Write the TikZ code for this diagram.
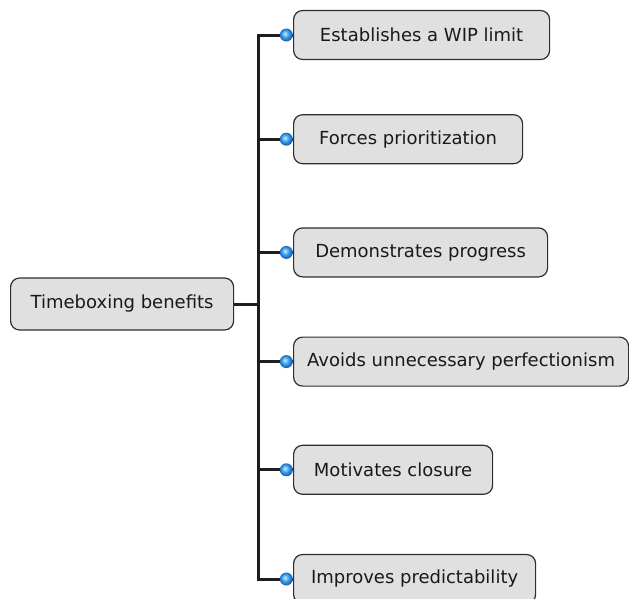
\documentclass[tikz,border=0pt]{standalone}
\usepackage{fontspec}
\setmainfont{DejaVu Sans}
\usetikzlibrary{positioning, calc}
\definecolor{boxfill}{HTML}{E0E0E0}
\definecolor{boxline}{HTML}{2E2E2E}
\definecolor{dotlight}{HTML}{8FD0F8}
\definecolor{dotblue}{HTML}{2E8FE2}
\definecolor{dotdark}{HTML}{1A62B0}
\definecolor{branchcol}{HTML}{1E1E1E}
\pgfdeclareradialshading{bulletball}{\pgfpoint{-6bp}{6bp}}{color(0bp)=(white!60!dotlight); color(5bp)=(dotlight); color(16bp)=(dotblue); color(25bp)=(dotdark); color(50bp)=(dotdark)}

\begin{document}
\begin{tikzpicture}[x=1pt, y=1pt,
          box/.style={draw=boxline, fill=boxfill, rounded corners=9pt, line width=1.2pt, text=black!90, font=\fontsize{18}{21}\selectfont, minimum height=49pt, inner xsep=8pt},
          dot/.style={circle, shading=bulletball, minimum size=13pt, inner sep=0pt},
          branch/.style={line width=3pt, branchcol}]
        \useasboundingbox (0,0) rectangle (629,-598);
        \node[box, anchor=west, minimum width=223pt, minimum height=52pt] (root) at (10,-304) {Timeboxing benefits};
        \node[box, anchor=west, minimum width=256pt] (e1) at (293,-35) {Establishes a WIP limit};
        \node[box, below=54pt of e1.south west, anchor=north west, minimum width=229pt] (e2) {Forces prioritization};
        \node[box, below=63pt of e2.south west, anchor=north west, minimum width=254pt] (e3) {Demonstrates progress};
        \node[box, below=59pt of e3.south west, anchor=north west, minimum width=335pt] (e4) {Avoids unnecessary perfectionism};
        \node[box, below=58pt of e4.south west, anchor=north west, minimum width=199pt] (e5) {Motivates closure};
        \node[box, below=59pt of e5.south west, anchor=north west, minimum width=242pt] (e6) {Improves predictability};
        \coordinate (j) at ($(root.east)+(24,0)$);
        \draw[branch] (root) -- (j);
        \draw[branch] (e1.west) -| (j) |- (e6.west);
        \draw[branch] (j |- e2) -- (e2.west);
        \draw[branch] (j |- e3) -- (e3.west);
        \draw[branch] (j |- e4) -- (e4.west);
        \draw[branch] (j |- e5) -- (e5.west);
        \node[dot, left=0pt of e1] (b1) {};
        \node[dot, left=0pt of e2] (b2) {};
        \node[dot, left=0pt of e3] (b3) {};
        \node[dot, left=0pt of e4] (b4) {};
        \node[dot, left=0pt of e5] (b5) {};
        \node[dot, left=0pt of e6] (b6) {};
      \end{tikzpicture}
\end{document}
